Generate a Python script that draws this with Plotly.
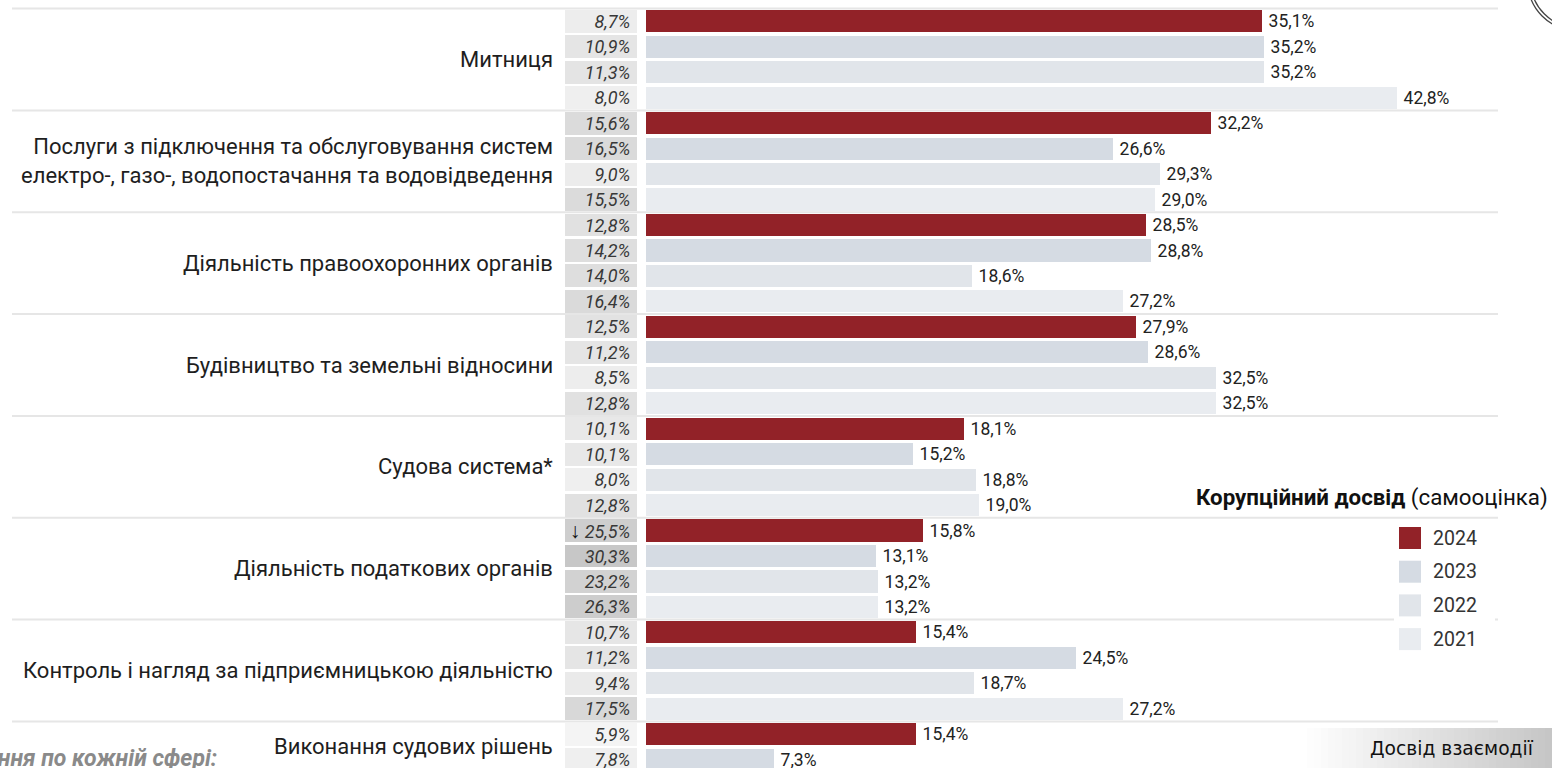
import plotly.graph_objects as go

# ---- data -----------------------------------------------------------------
years = ["2024", "2023", "2022", "2021"]

categories = [
    "Митниця",
    "Послуги з підключення та обслуговування систем<br>електро-, газо-, водопостачання та водовідведення",
    "Діяльність правоохоронних органів",
    "Будівництво та земельні відносини",
    "Судова система*",
    "Діяльність податкових органів",
    "Контроль і нагляд за підприємницькою діяльністю",
    "Виконання судових рішень",
]

# corruption experience (self-assessment), % — bars
experience_2024 = [35.1, 32.2, 28.5, 27.9, 18.1, 15.8, 15.4, 15.4]
experience_2023 = [35.2, 26.6, 28.8, 28.6, 15.2, 13.1, 24.5, 7.3]
experience_2022 = [35.2, 29.3, 18.6, 32.5, 18.8, 13.2, 18.7, None]
experience_2021 = [42.8, 29.0, 27.2, 32.5, 19.0, 13.2, 27.2, None]

# interaction experience, % — shaded cells
interaction_2024 = [8.7, 15.6, 12.8, 12.5, 10.1, 25.5, 10.7, 5.9]
interaction_2023 = [10.9, 16.5, 14.2, 11.2, 10.1, 30.3, 11.2, 7.8]
interaction_2022 = [11.3, 9.0, 14.0, 8.5, 8.0, 23.2, 9.4, None]
interaction_2021 = [8.0, 15.5, 16.4, 12.8, 12.8, 26.3, 17.5, None]

# cells flagged with a decline arrow: (category index, year)
declines = [(5, "2024")]

experience = [experience_2024, experience_2023, experience_2022, experience_2021]
interaction = [interaction_2024, interaction_2023, interaction_2022, interaction_2021]

# ---- styling --------------------------------------------------------------
W, H = 1552, 768
bar_colors = {"2024": "#922228", "2023": "#d5dbe3", "2022": "#e1e5ea", "2021": "#e9ecf0"}
FONT = "Roboto"


def px_x(p):
    return p / W


def px_y(p):
    return 1 - p / H


def pct(v):
    return f"{v:.1f}".replace(".", ",") + "%"


# row layout: one row per available year, groups stacked top to bottom
row_pos = {y: [] for y in years}
row_val = {y: [] for y in years}
cell_pos, cell_val, cell_txt = [], [], []
group_mid, group_top = [], []
start = 0
for g in range(len(categories)):
    avail = [(j, y) for j, y in enumerate(years) if experience[j][g] is not None]
    group_top.append(start - 0.5)
    for k, (j, y) in enumerate(avail):
        pos = start + k
        row_pos[y].append(pos)
        row_val[y].append(experience[j][g])
        v = interaction[j][g]
        cell_pos.append(pos)
        cell_val.append(v)
        if (g, y) in declines:
            cell_txt.append("<span style='font-style:normal;font-size:21px;fill:#111'>↓</span> "
                            + pct(v) + "\u2009")
        else:
            cell_txt.append(pct(v) + "\u2009")
    group_mid.append(start + (len(avail) - 1) / 2)
    start += len(avail)
group_top.append(start - 0.5)

fig = go.Figure()

# shaded interaction cells
fig.add_trace(go.Bar(
    x=[1] * len(cell_pos), y=cell_pos, orientation="h",
    xaxis="x2", yaxis="y", width=0.9,
    marker=dict(
        color=cell_val, cmin=5, cmax=31,
        colorscale=[[0, "#f6f6f6"], [0.115, "#efefef"], [0.23, "#e5e5e5"],
                    [0.40, "#dbdbdb"], [0.69, "#d2d2d2"], [1, "#c6c6c6"]],
        line=dict(width=0),
    ),
    text=cell_txt, textposition="inside", insidetextanchor="end",
    textangle=0, constraintext="none",
    textfont=dict(family=FONT, size=18, color="#383838", style="italic"),
    hoverinfo="skip", showlegend=False,
))

# corruption experience bars, one trace per year
for y in years:
    fig.add_trace(go.Bar(
        x=row_val[y], y=row_pos[y], orientation="h", name=y,
        width=0.87,
        marker=dict(color=bar_colors[y], line=dict(width=0)),
        text=["\u2009" + pct(v) for v in row_val[y]], textposition="outside",
        textangle=0, constraintext="none", cliponaxis=False,
        textfont=dict(family=FONT, size=17.5, color="#222222"),
        showlegend=False,
    ))

shapes = []
# group separators
for yy in group_top:
    shapes.append(dict(type="line", xref="paper", yref="y",
                       x0=px_x(12), x1=px_x(1498), y0=yy, y1=yy,
                       line=dict(color="#e6e6e6", width=2), layer="below"))

# legend panel
shapes.append(dict(type="rect", xref="paper", yref="paper",
                   x0=px_x(1394), x1=px_x(1495), y0=px_y(655), y1=px_y(523),
                   fillcolor="white", line=dict(width=0), layer="below"))
annotations = []
for i, y in enumerate(years):
    cy = 538 + i * 33.7
    shapes.append(dict(type="rect", xref="paper", yref="paper",
                       x0=px_x(1399), x1=px_x(1421), y0=px_y(cy + 11), y1=px_y(cy - 11),
                       fillcolor=bar_colors[y], line=dict(width=0)))
    annotations.append(dict(xref="paper", yref="paper", x=px_x(1431), y=px_y(cy),
                            xanchor="left", yanchor="middle", showarrow=False, text=y,
                            font=dict(family=FONT, size=19.5, color="#333333")))
annotations.append(dict(xref="paper", yref="paper", x=px_x(1550), y=px_y(497),
                        xanchor="right", yanchor="middle", showarrow=False,
                        text="<b>Корупційний досвід</b> (самооцінка)",
                        font=dict(family=FONT, size=22.3, color="#111111")))

# "Досвід взаємодії" tab with a horizontal grey gradient
steps = 36
x_start, x_end = 1300, 1552
for s in range(steps):
    t = s / (steps - 1)
    c = int(round(255 - t * (255 - 198)))
    x0 = x_start + (x_end - x_start) * s / steps
    x1 = x_start + (x_end - x_start) * (s + 1) / steps + 0.5
    shapes.append(dict(type="rect", xref="paper", yref="paper",
                       x0=px_x(x0), x1=px_x(x1), y0=px_y(768), y1=px_y(728),
                       fillcolor=f"rgb({c},{c},{c})", line=dict(width=0)))
annotations.append(dict(xref="paper", yref="paper", x=px_x(1536), y=px_y(748),
                        xanchor="right", yanchor="middle", showarrow=False,
                        text="Досвід взаємодії",
                        font=dict(family="DejaVu Sans", size=18.7, color="#111111")))

# footnote heading at the bottom left
annotations.append(dict(xref="paper", yref="paper", x=px_x(219), y=px_y(758),
                        xanchor="right", yanchor="middle", showarrow=False,
                        text="<b><i>Значення по кожній сфері:</i></b>",
                        font=dict(family=FONT, size=23, color="#8a8a8a")))

# emblem in the top right corner
for r in (48, 45):
    cx, cy = 1576, -18
    shapes.append(dict(type="circle", xref="paper", yref="paper",
                       x0=px_x(cx - r), x1=px_x(cx + r), y0=px_y(cy + r), y1=px_y(cy - r),
                       line=dict(color="#444444", width=1.3)))

# category labels
for name, ym in zip(categories, group_mid):
    annotations.append(dict(xref="paper", yref="y", x=px_x(555), y=ym,
                            xanchor="right", yanchor="middle", align="right",
                            showarrow=False, text=name,
                            font=dict(family=FONT, size=22, color="#1e1e1e")))

row_px = 25.46
top_px = 21.3
fig.update_layout(
    width=W, height=H,
    margin=dict(l=0, r=0, t=0, b=0),
    paper_bgcolor="white", plot_bgcolor="white",
    font=dict(family=FONT),
    barmode="overlay", bargap=0,
    xaxis=dict(domain=[px_x(646), 1], range=[0, (W - 646) / 17.55],
               visible=False, fixedrange=True),
    xaxis2=dict(domain=[px_x(565), px_x(637)], range=[0, 1], anchor="y",
                visible=False, fixedrange=True),
    yaxis=dict(range=[(H - top_px) / row_px, -top_px / row_px],
               visible=False, fixedrange=True),
    shapes=shapes,
    annotations=annotations,
)

fig.write_html("out.html")
